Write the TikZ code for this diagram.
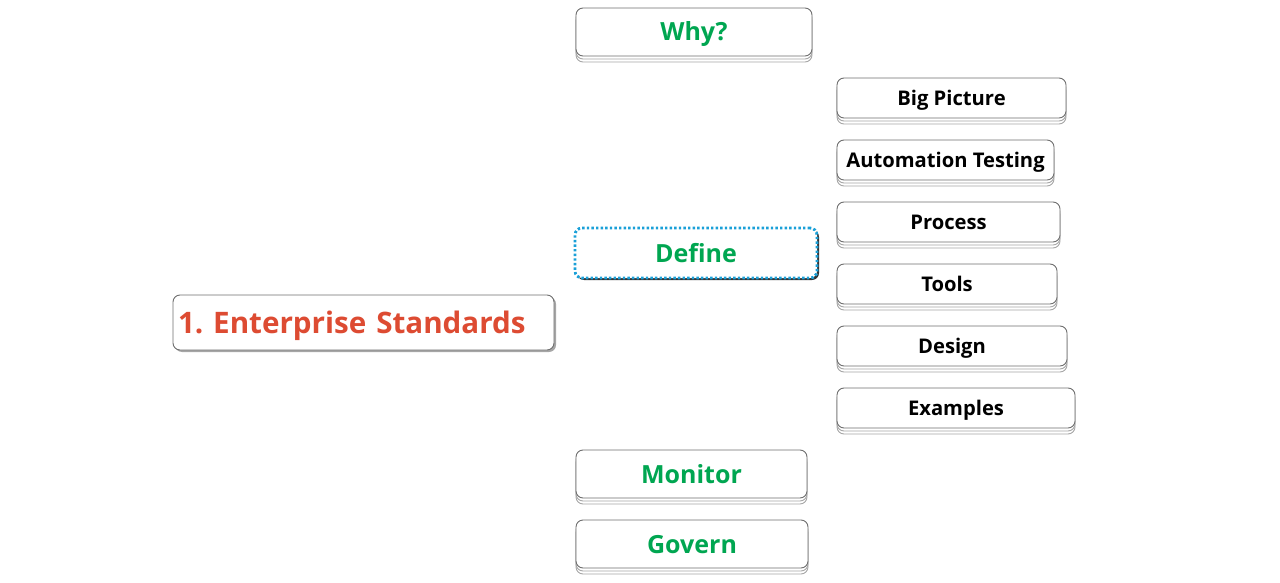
\documentclass[tikz,border=0pt]{standalone}
\usepackage{fontspec}
\setmainfont{Open Sans}
\usetikzlibrary{shadows}
\definecolor{grn}{RGB}{0,166,81}
\definecolor{rd}{RGB}{221,75,50}
\definecolor{blu}{RGB}{26,160,216}
\definecolor{bord}{RGB}{110,110,110}
\tikzset{
  base/.style={rectangle, rounded corners=7pt, fill=white, draw=bord, line width=0.9pt, inner sep=0pt, font=\bfseries},
  stacked/.style={base,
    general shadow={fill=white, draw=gray!70, line width=0.9pt, shadow xshift=0pt, shadow yshift=-6pt},
    general shadow={fill=white, draw=gray!70, line width=0.9pt, shadow xshift=0pt, shadow yshift=-3pt}},
  topic/.style={stacked, font=\fontsize{25}{30}\selectfont\bfseries, text=grn, text height=22pt, text depth=4pt},
  sub/.style={stacked, font=\fontsize{20.2}{24}\selectfont\bfseries, text=black, minimum height=40pt, text height=19pt, text depth=4.6pt},
}
\begin{document}
\frenchspacing
\begin{tikzpicture}[x=1pt,y=-1pt]
\useasboundingbox (0,0) rectangle (1280,583);
% central topic
\node[base, draw=bord, text=rd, font=\fontsize{29.6}{36}\selectfont\bfseries,
  minimum width=381pt, minimum height=55pt, text width=371pt, align=left,
  text height=26pt, text depth=4.6pt,
  drop shadow={shadow xshift=2pt, shadow yshift=-2pt, fill=black, opacity=0.35}] (root) at (363.5,322.5) {1. Enterprise Standards};
% level 1
\node[topic, minimum width=236pt, minimum height=48pt] (why) at (694,32) {Why?};
\node[base, draw=blu, line width=2.8pt, dash pattern=on 2.4pt off 2.2pt, text=grn,
  font=\fontsize{25}{30}\selectfont\bfseries, minimum width=242pt, minimum height=50pt,
  text height=22pt, text depth=4pt,
  drop shadow={shadow xshift=2pt, shadow yshift=-2pt, fill=black, opacity=0.8}] (define) at (696,253) {Define};
\node[topic, minimum width=231pt, minimum height=48pt] (monitor) at (691.5,474) {Monitor};
\node[topic, minimum width=232pt, minimum height=48pt] (govern) at (692,544) {Govern};
% level 2
\node[sub, minimum width=229pt] (big) at (951.5,98) {Big Picture};
\node[sub, minimum width=217pt] (auto) at (945.5,160) {Automation Testing};
\node[sub, minimum width=223pt] (proc) at (948.5,222) {Process};
\node[sub, minimum width=220pt] (tools) at (947,284) {Tools};
\node[sub, minimum width=230pt] (design) at (952,346) {Design};
\node[sub, minimum width=238pt] (ex) at (956,408) {Examples};
\end{tikzpicture}
\end{document}
